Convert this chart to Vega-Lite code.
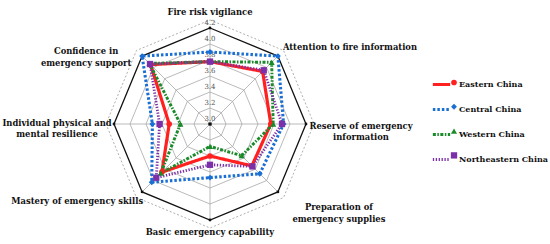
{
  "$schema": "https://vega.github.io/schema/vega-lite/v6.json",
  "width": 550,
  "height": 244,
  "autosize": {"type": "none"},
  "padding": 0,
  "background": "white",
  "config": {"view": {"stroke": null}, "font": "DejaVu Serif"},
  "resolve": {"legend": {"color": "independent", "shape": "independent", "size": "independent", "strokeDash": "independent", "strokeWidth": "independent"}},
  "datasets": {
    "axes": [
      {"idx": 0, "label": "Fire risk vigilance", "levels": [3.2, 3.4, 3.6, 3.8, 4.0]},
      {"idx": 1, "label": "Attention to fire information", "levels": [3.2, 3.4, 3.6, 3.8, 4.0]},
      {"idx": 2, "label": "Reserve of emergency\ninformation", "levels": [3.2, 3.4, 3.6, 3.8, 4.0]},
      {"idx": 3, "label": "Preparation of\nemergency supplies", "levels": [3.2, 3.4, 3.6, 3.8, 4.0]},
      {"idx": 4, "label": "Basic emergency capability", "levels": [3.2, 3.4, 3.6, 3.8, 4.0]},
      {"idx": 5, "label": "Mastery of emergency skills", "levels": [3.2, 3.4, 3.6, 3.8, 4.0]},
      {"idx": 6, "label": "Individual physical and\nmental resilience", "levels": [3.2, 3.4, 3.6, 3.8, 4.0]},
      {"idx": 7, "label": "Confidence in\nemergency support", "levels": [3.2, 3.4, 3.6, 3.8, 4.0]}
    ],
    "ticks": [
      {"v": 3.0, "t": "3.0"}, {"v": 3.2, "t": "3.2"}, {"v": 3.4, "t": "3.4"},
      {"v": 3.6, "t": "3.6"}, {"v": 3.8, "t": "3.8"}, {"v": 4.0, "t": "4.0"}, {"v": 4.2, "t": "4.2"}
    ],
    "scores": [
      {"region": "Eastern China", "idx": 0, "value": 3.78},
      {"region": "Eastern China", "idx": 1, "value": 3.93},
      {"region": "Eastern China", "idx": 2, "value": 3.76},
      {"region": "Eastern China", "idx": 3, "value": 3.74},
      {"region": "Eastern China", "idx": 4, "value": 3.40},
      {"region": "Eastern China", "idx": 5, "value": 3.85},
      {"region": "Eastern China", "idx": 6, "value": 3.51},
      {"region": "Eastern China", "idx": 7, "value": 4.05},
      {"region": "Central China", "idx": 0, "value": 3.90},
      {"region": "Central China", "idx": 1, "value": 4.20},
      {"region": "Central China", "idx": 2, "value": 3.92},
      {"region": "Central China", "idx": 3, "value": 3.88},
      {"region": "Central China", "idx": 4, "value": 3.67},
      {"region": "Central China", "idx": 5, "value": 4.03},
      {"region": "Central China", "idx": 6, "value": 3.72},
      {"region": "Central China", "idx": 7, "value": 4.20},
      {"region": "Western China", "idx": 0, "value": 3.78},
      {"region": "Western China", "idx": 1, "value": 4.09},
      {"region": "Western China", "idx": 2, "value": 3.79},
      {"region": "Western China", "idx": 3, "value": 3.56},
      {"region": "Western China", "idx": 4, "value": 3.28},
      {"region": "Western China", "idx": 5, "value": 3.87},
      {"region": "Western China", "idx": 6, "value": 3.37},
      {"region": "Western China", "idx": 7, "value": 4.07},
      {"region": "Northeastern China", "idx": 0, "value": 3.78},
      {"region": "Northeastern China", "idx": 1, "value": 3.95},
      {"region": "Northeastern China", "idx": 2, "value": 3.90},
      {"region": "Northeastern China", "idx": 3, "value": 3.75},
      {"region": "Northeastern China", "idx": 4, "value": 3.51},
      {"region": "Northeastern China", "idx": 5, "value": 3.95},
      {"region": "Northeastern China", "idx": 6, "value": 3.63},
      {"region": "Northeastern China", "idx": 7, "value": 4.06}
    ]
  },
  "layer": [
    {
      "data": {"name": "axes"},
      "transform": [
        {"calculate": "1.3*sin(datum.idx*PI/4)", "as": "x"},
        {"calculate": "1.3*cos(datum.idx*PI/4)", "as": "y"}
      ],
      "mark": {"type": "line", "interpolate": "linear-closed", "stroke": "#9a9a9a", "strokeWidth": 0.8, "strokeDash": [2, 2]},
      "encoding": {
        "x": {"field": "x", "type": "quantitative", "scale": {"domain": [-2.625, 4.25], "nice": false, "zero": false}, "axis": null},
        "y": {"field": "y", "type": "quantitative", "scale": {"domain": [-1.5, 1.55], "nice": false, "zero": false}, "axis": null},
        "order": {"field": "idx", "type": "quantitative"}
      }
    },
    {
      "data": {"name": "axes"},
      "transform": [
        {"flatten": ["levels"]},
        {"calculate": "(datum.levels-3)*sin(datum.idx*PI/4)", "as": "x"},
        {"calculate": "(datum.levels-3)*cos(datum.idx*PI/4)", "as": "y"}
      ],
      "mark": {"type": "line", "interpolate": "linear-closed", "stroke": "#a8a8a8", "strokeWidth": 0.8},
      "encoding": {
        "x": {"field": "x", "type": "quantitative", "scale": {"domain": [-2.625, 4.25], "nice": false, "zero": false}, "axis": null},
        "y": {"field": "y", "type": "quantitative", "scale": {"domain": [-1.5, 1.55], "nice": false, "zero": false}, "axis": null},
        "detail": {"field": "levels", "type": "nominal"},
        "order": {"field": "idx", "type": "quantitative"}
      }
    },
    {
      "data": {"name": "axes"},
      "transform": [
        {"calculate": "0", "as": "x0"},
        {"calculate": "1.2*sin(datum.idx*PI/4)", "as": "x"},
        {"calculate": "1.2*cos(datum.idx*PI/4)", "as": "y"}
      ],
      "mark": {"type": "rule", "stroke": "#a8a8a8", "strokeWidth": 0.8},
      "encoding": {
        "x": {"field": "x0", "type": "quantitative", "scale": {"domain": [-2.625, 4.25], "nice": false, "zero": false}, "axis": null},
        "y": {"field": "x0", "type": "quantitative", "scale": {"domain": [-1.5, 1.55], "nice": false, "zero": false}, "axis": null},
        "x2": {"field": "x"},
        "y2": {"field": "y"}
      }
    },
    {
      "data": {"name": "axes"},
      "transform": [
        {"calculate": "1.2*sin(datum.idx*PI/4)", "as": "x"},
        {"calculate": "1.2*cos(datum.idx*PI/4)", "as": "y"}
      ],
      "mark": {"type": "line", "interpolate": "linear-closed", "stroke": "#111111", "strokeWidth": 1.3},
      "encoding": {
        "x": {"field": "x", "type": "quantitative", "scale": {"domain": [-2.625, 4.25], "nice": false, "zero": false}, "axis": null},
        "y": {"field": "y", "type": "quantitative", "scale": {"domain": [-1.5, 1.55], "nice": false, "zero": false}, "axis": null},
        "order": {"field": "idx", "type": "quantitative"}
      }
    },
    {
      "data": {"name": "axes"},
      "transform": [
        {"calculate": "1.2*sin(datum.idx*PI/4)", "as": "x"},
        {"calculate": "1.2*cos(datum.idx*PI/4)", "as": "y"}
      ],
      "mark": {"type": "point", "filled": true, "color": "#111111", "size": 8, "opacity": 1},
      "encoding": {
        "x": {"field": "x", "type": "quantitative", "scale": {"domain": [-2.625, 4.25], "nice": false, "zero": false}, "axis": null},
        "y": {"field": "y", "type": "quantitative", "scale": {"domain": [-1.5, 1.55], "nice": false, "zero": false}, "axis": null}
      }
    },
    {
      "data": {"name": "ticks"},
      "transform": [{"calculate": "datum.v-3", "as": "y"}, {"calculate": "0", "as": "x"}],
      "mark": {"type": "text", "font": "DejaVu Serif", "fontSize": 7, "fill": "#555555", "dy": -5, "baseline": "middle", "align": "center"},
      "encoding": {
        "x": {"field": "x", "type": "quantitative", "scale": {"domain": [-2.625, 4.25], "nice": false, "zero": false}, "axis": null},
        "y": {"field": "y", "type": "quantitative", "scale": {"domain": [-1.5, 1.55], "nice": false, "zero": false}, "axis": null},
        "text": {"field": "t"}
      }
    },
    {
      "data": {"name": "ticks"},
      "transform": [{"filter": "datum.v == 3.0"}, {"calculate": "0", "as": "x"}],
      "mark": {"type": "point", "filled": true, "color": "#111111", "size": 14, "opacity": 1},
      "encoding": {
        "x": {"field": "x", "type": "quantitative", "scale": {"domain": [-2.625, 4.25], "nice": false, "zero": false}, "axis": null},
        "y": {"field": "x", "type": "quantitative", "scale": {"domain": [-1.5, 1.55], "nice": false, "zero": false}, "axis": null}
      }
    },
    {
      "data": {"name": "axes"},
      "transform": [
        {"filter": "datum.idx == 0"},
        {"calculate": "1.2*sin(datum.idx*PI/4)", "as": "x"},
        {"calculate": "1.2*cos(datum.idx*PI/4)", "as": "y"}
      ],
      "mark": {"type": "text", "font": "DejaVu Serif", "fontSize": 8.4, "fontWeight": "bold", "fill": "#111111", "align": "center", "baseline": "middle", "dy": -16, "lineBreak": "\n", "lineHeight": 11.5},
      "encoding": {
        "x": {"field": "x", "type": "quantitative", "scale": {"domain": [-2.625, 4.25], "nice": false, "zero": false}, "axis": null},
        "y": {"field": "y", "type": "quantitative", "scale": {"domain": [-1.5, 1.55], "nice": false, "zero": false}, "axis": null},
        "text": {"field": "label"}
      }
    },
    {
      "data": {"name": "axes"},
      "transform": [
        {"filter": "datum.idx == 1"},
        {"calculate": "1.2*sin(datum.idx*PI/4)", "as": "x"},
        {"calculate": "1.2*cos(datum.idx*PI/4)", "as": "y"}
      ],
      "mark": {"type": "text", "font": "DejaVu Serif", "fontSize": 8.4, "fontWeight": "bold", "fill": "#111111", "align": "left", "baseline": "middle", "dx": 5, "dy": -9, "lineBreak": "\n", "lineHeight": 11.5},
      "encoding": {
        "x": {"field": "x", "type": "quantitative", "scale": {"domain": [-2.625, 4.25], "nice": false, "zero": false}, "axis": null},
        "y": {"field": "y", "type": "quantitative", "scale": {"domain": [-1.5, 1.55], "nice": false, "zero": false}, "axis": null},
        "text": {"field": "label"}
      }
    },
    {
      "data": {"name": "axes"},
      "transform": [
        {"filter": "datum.idx == 2"},
        {"calculate": "1.2*sin(datum.idx*PI/4)", "as": "x"},
        {"calculate": "1.2*cos(datum.idx*PI/4)", "as": "y"}
      ],
      "mark": {"type": "text", "font": "DejaVu Serif", "fontSize": 8.4, "fontWeight": "bold", "fill": "#111111", "align": "center", "baseline": "middle", "dx": 55, "dy": 1.5, "lineBreak": "\n", "lineHeight": 11.5},
      "encoding": {
        "x": {"field": "x", "type": "quantitative", "scale": {"domain": [-2.625, 4.25], "nice": false, "zero": false}, "axis": null},
        "y": {"field": "y", "type": "quantitative", "scale": {"domain": [-1.5, 1.55], "nice": false, "zero": false}, "axis": null},
        "text": {"field": "label"}
      }
    },
    {
      "data": {"name": "axes"},
      "transform": [
        {"filter": "datum.idx == 3"},
        {"calculate": "1.2*sin(datum.idx*PI/4)", "as": "x"},
        {"calculate": "1.2*cos(datum.idx*PI/4)", "as": "y"}
      ],
      "mark": {"type": "text", "font": "DejaVu Serif", "fontSize": 8.4, "fontWeight": "bold", "fill": "#111111", "align": "center", "baseline": "middle", "dx": 61, "dy": 15.5, "lineBreak": "\n", "lineHeight": 11.5},
      "encoding": {
        "x": {"field": "x", "type": "quantitative", "scale": {"domain": [-2.625, 4.25], "nice": false, "zero": false}, "axis": null},
        "y": {"field": "y", "type": "quantitative", "scale": {"domain": [-1.5, 1.55], "nice": false, "zero": false}, "axis": null},
        "text": {"field": "label"}
      }
    },
    {
      "data": {"name": "axes"},
      "transform": [
        {"filter": "datum.idx == 4"},
        {"calculate": "1.2*sin(datum.idx*PI/4)", "as": "x"},
        {"calculate": "1.2*cos(datum.idx*PI/4)", "as": "y"}
      ],
      "mark": {"type": "text", "font": "DejaVu Serif", "fontSize": 8.4, "fontWeight": "bold", "fill": "#111111", "align": "center", "baseline": "middle", "dy": 12, "lineBreak": "\n", "lineHeight": 11.5},
      "encoding": {
        "x": {"field": "x", "type": "quantitative", "scale": {"domain": [-2.625, 4.25], "nice": false, "zero": false}, "axis": null},
        "y": {"field": "y", "type": "quantitative", "scale": {"domain": [-1.5, 1.55], "nice": false, "zero": false}, "axis": null},
        "text": {"field": "label"}
      }
    },
    {
      "data": {"name": "axes"},
      "transform": [
        {"filter": "datum.idx == 5"},
        {"calculate": "1.2*sin(datum.idx*PI/4)", "as": "x"},
        {"calculate": "1.2*cos(datum.idx*PI/4)", "as": "y"}
      ],
      "mark": {"type": "text", "font": "DejaVu Serif", "fontSize": 8.4, "fontWeight": "bold", "fill": "#111111", "align": "right", "baseline": "middle", "dx": 1, "dy": 9, "lineBreak": "\n", "lineHeight": 11.5},
      "encoding": {
        "x": {"field": "x", "type": "quantitative", "scale": {"domain": [-2.625, 4.25], "nice": false, "zero": false}, "axis": null},
        "y": {"field": "y", "type": "quantitative", "scale": {"domain": [-1.5, 1.55], "nice": false, "zero": false}, "axis": null},
        "text": {"field": "label"}
      }
    },
    {
      "data": {"name": "axes"},
      "transform": [
        {"filter": "datum.idx == 6"},
        {"calculate": "1.2*sin(datum.idx*PI/4)", "as": "x"},
        {"calculate": "1.2*cos(datum.idx*PI/4)", "as": "y"}
      ],
      "mark": {"type": "text", "font": "DejaVu Serif", "fontSize": 8.4, "fontWeight": "bold", "fill": "#111111", "align": "center", "baseline": "middle", "dx": -57, "dy": -1.5, "lineBreak": "\n", "lineHeight": 11.5},
      "encoding": {
        "x": {"field": "x", "type": "quantitative", "scale": {"domain": [-2.625, 4.25], "nice": false, "zero": false}, "axis": null},
        "y": {"field": "y", "type": "quantitative", "scale": {"domain": [-1.5, 1.55], "nice": false, "zero": false}, "axis": null},
        "text": {"field": "label"}
      }
    },
    {
      "data": {"name": "axes"},
      "transform": [
        {"filter": "datum.idx == 7"},
        {"calculate": "1.2*sin(datum.idx*PI/4)", "as": "x"},
        {"calculate": "1.2*cos(datum.idx*PI/4)", "as": "y"}
      ],
      "mark": {"type": "text", "font": "DejaVu Serif", "fontSize": 8.4, "fontWeight": "bold", "fill": "#111111", "align": "center", "baseline": "middle", "dx": -56, "dy": -5, "lineBreak": "\n", "lineHeight": 11.5},
      "encoding": {
        "x": {"field": "x", "type": "quantitative", "scale": {"domain": [-2.625, 4.25], "nice": false, "zero": false}, "axis": null},
        "y": {"field": "y", "type": "quantitative", "scale": {"domain": [-1.5, 1.55], "nice": false, "zero": false}, "axis": null},
        "text": {"field": "label"}
      }
    },
    {
      "data": {"name": "scores"},
      "transform": [
        {"calculate": "(datum.value-3)*sin(datum.idx*PI/4)", "as": "x"},
        {"calculate": "(datum.value-3)*cos(datum.idx*PI/4)", "as": "y"}
      ],
      "mark": {"type": "line", "interpolate": "linear-closed"},
      "encoding": {
        "x": {"field": "x", "type": "quantitative", "scale": {"domain": [-2.625, 4.25], "nice": false, "zero": false}, "axis": null},
        "y": {"field": "y", "type": "quantitative", "scale": {"domain": [-1.5, 1.55], "nice": false, "zero": false}, "axis": null},
        "order": {"field": "idx", "type": "quantitative"},
        "color": {
          "field": "region", "type": "nominal",
          "scale": {"domain": ["Eastern China", "Central China", "Western China", "Northeastern China"], "range": ["#ff2020", "#1a6fd4", "#1a8a2a", "#7b2fa8"]},
          "legend": {"orient": "none", "legendX": 431, "legendY": 74, "padding": 0, "title": null, "symbolType": "stroke", "symbolSize": 300, "symbolStrokeWidth": 3.2, "labelFont": "DejaVu Serif", "labelFontWeight": "bold", "labelFontSize": 8, "labelColor": "#111111", "rowPadding": 8, "labelOffset": 7}
        },
        "strokeDash": {
          "field": "region", "type": "nominal",
          "scale": {"domain": ["Eastern China", "Central China", "Western China", "Northeastern China"], "range": [[1, 0], [2.5, 2], [3, 1.5, 1.5, 1.5], [1.3, 1.6]]},
          "legend": {"orient": "none", "legendX": 431, "legendY": 74, "padding": 0, "title": null, "symbolType": "stroke", "symbolSize": 300, "symbolStrokeWidth": 3.2, "labelFont": "DejaVu Serif", "labelFontWeight": "bold", "labelFontSize": 8, "labelColor": "#111111", "rowPadding": 8, "labelOffset": 7}
        },
        "strokeWidth": {
          "field": "region", "type": "nominal",
          "scale": {"domain": ["Eastern China", "Central China", "Western China", "Northeastern China"], "range": [3.2, 2.8, 2.6, 2.3]},
          "legend": null
        }
      }
    },
    {
      "data": {"name": "scores"},
      "transform": [
        {"calculate": "(datum.value-3)*sin(datum.idx*PI/4)", "as": "x"},
        {"calculate": "(datum.value-3)*cos(datum.idx*PI/4)", "as": "y"}
      ],
      "mark": {"type": "point", "filled": true, "opacity": 1},
      "encoding": {
        "x": {"field": "x", "type": "quantitative", "scale": {"domain": [-2.625, 4.25], "nice": false, "zero": false}, "axis": null},
        "y": {"field": "y", "type": "quantitative", "scale": {"domain": [-1.5, 1.55], "nice": false, "zero": false}, "axis": null},
        "color": {"field": "region", "type": "nominal", "scale": {"domain": ["Eastern China", "Central China", "Western China", "Northeastern China"], "range": ["#ff2020", "#1a6fd4", "#1a8a2a", "#7b2fa8"]},
          "legend": {"orient": "none", "legendX": 449, "legendY": 77.5, "padding": 0, "title": null, "labelExpr": "''", "labelFontSize": 10, "rowPadding": 14.3, "symbolStrokeWidth": 0}},
        "shape": {"field": "region", "type": "nominal", "scale": {"domain": ["Eastern China", "Central China", "Western China", "Northeastern China"], "range": ["circle", "diamond", "triangle-up", "square"]},
          "legend": {"orient": "none", "legendX": 449, "legendY": 77.5, "padding": 0, "title": null, "labelExpr": "''", "labelFontSize": 10, "rowPadding": 14.3, "symbolStrokeWidth": 0}},
        "size": {"field": "region", "type": "nominal", "scale": {"domain": ["Eastern China", "Central China", "Western China", "Northeastern China"], "range": [32, 40, 30, 50]},
          "legend": {"orient": "none", "legendX": 449, "legendY": 77.5, "padding": 0, "title": null, "labelExpr": "''", "labelFontSize": 10, "rowPadding": 14.3, "symbolStrokeWidth": 0}}
      }
    }
  ]
}
